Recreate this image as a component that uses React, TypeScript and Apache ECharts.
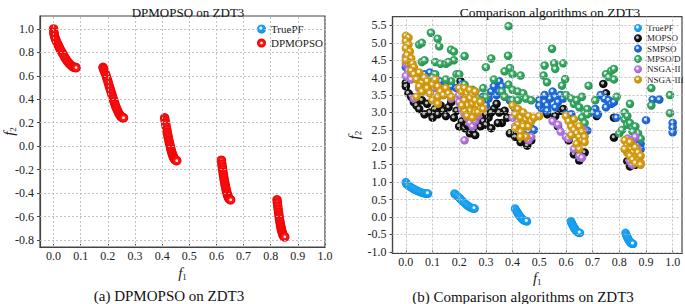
import React, { useEffect, useRef } from "react";
import * as echarts from "echarts";

// ---------- data ----------
const F1_TICKS = [0, 0.1, 0.2, 0.3, 0.4, 0.5, 0.6, 0.7, 0.8, 0.9, 1.0];
const LEFT_F2_TICKS = [-0.8, -0.6, -0.4, -0.2, 0, 0.2, 0.4, 0.6, 0.8, 1.0];
const RIGHT_F2_TICKS = [-1.0, -0.5, 0, 0.5, 1.0, 1.5, 2.0, 2.5, 3.0, 3.5, 4.0, 4.5, 5.0, 5.5];

const TRUE_PF: number[][] = [
  [0, 1.0], [0.001, 0.968], [0.003, 0.945], [0.005, 0.928], [0.01, 0.897], [0.015, 0.871],
  [0.02, 0.847], [0.025, 0.824], [0.03, 0.803], [0.035, 0.782], [0.04, 0.762], [0.045, 0.743],
  [0.05, 0.726], [0.055, 0.711], [0.06, 0.698], [0.065, 0.687], [0.07, 0.679], [0.075, 0.673],
  [0.08, 0.67], [0.083, 0.67],
  [0.1822, 0.672], [0.185, 0.654], [0.19, 0.623], [0.195, 0.589], [0.2, 0.553], [0.205, 0.515],
  [0.21, 0.477], [0.215, 0.439], [0.22, 0.402], [0.225, 0.367], [0.23, 0.334], [0.235, 0.306],
  [0.24, 0.282], [0.245, 0.263], [0.25, 0.25], [0.2545, 0.2435], [0.2578, 0.242],
  [0.4093, 0.242], [0.412, 0.206], [0.415, 0.167], [0.4175, 0.136], [0.42, 0.105], [0.4225, 0.076],
  [0.425, 0.048], [0.4275, 0.021], [0.43, -0.004], [0.4325, -0.026], [0.435, -0.047],
  [0.4375, -0.066], [0.44, -0.082], [0.4425, -0.096], [0.445, -0.107], [0.45, -0.121], [0.4539, -0.124],
  [0.6184, -0.12], [0.62, -0.152], [0.622, -0.185], [0.624, -0.217], [0.626, -0.248], [0.628, -0.276],
  [0.63, -0.303], [0.632, -0.329], [0.634, -0.352], [0.636, -0.373], [0.638, -0.392], [0.64, -0.409],
  [0.642, -0.423], [0.644, -0.435], [0.646, -0.445], [0.649, -0.454], [0.6525, -0.458],
  [0.8233, -0.457], [0.825, -0.492], [0.827, -0.53], [0.829, -0.566], [0.831, -0.599], [0.833, -0.63],
  [0.835, -0.658], [0.837, -0.683], [0.839, -0.705], [0.841, -0.725], [0.843, -0.741], [0.845, -0.754],
  [0.847, -0.764], [0.849, -0.77], [0.8518, -0.773],
];

const DPMOPSO: number[][] = [
  [0, 1.0], [0.001, 0.97], [0.002, 0.955], [0.004, 0.935], [0.007, 0.915], [0.01, 0.897],
  [0.014, 0.876], [0.018, 0.857], [0.022, 0.838], [0.026, 0.82], [0.031, 0.8], [0.036, 0.78],
  [0.041, 0.76], [0.046, 0.74], [0.052, 0.72], [0.058, 0.703], [0.064, 0.69], [0.07, 0.679],
  [0.076, 0.672], [0.081, 0.67], [0.083, 0.67],
  [0.1822, 0.672], [0.184, 0.66], [0.187, 0.642], [0.19, 0.623], [0.193, 0.603], [0.196, 0.582],
  [0.199, 0.56], [0.202, 0.538], [0.205, 0.515], [0.208, 0.492], [0.211, 0.47], [0.214, 0.447],
  [0.217, 0.424], [0.22, 0.402], [0.223, 0.381], [0.226, 0.36], [0.229, 0.34], [0.232, 0.322],
  [0.236, 0.302], [0.24, 0.282], [0.244, 0.266], [0.248, 0.254], [0.252, 0.246], [0.2555, 0.243], [0.2578, 0.242],
  [0.4093, 0.242], [0.411, 0.218], [0.413, 0.193], [0.415, 0.167], [0.417, 0.142], [0.419, 0.117],
  [0.421, 0.093], [0.423, 0.07], [0.425, 0.048], [0.427, 0.026], [0.429, 0.006], [0.431, -0.013],
  [0.433, -0.031], [0.435, -0.047], [0.437, -0.063], [0.439, -0.076], [0.441, -0.088], [0.443, -0.099],
  [0.445, -0.107], [0.448, -0.116], [0.451, -0.122], [0.4539, -0.124],
  [0.6184, -0.12], [0.62, -0.152], [0.6215, -0.177], [0.623, -0.201], [0.6245, -0.225], [0.626, -0.248],
  [0.6275, -0.27], [0.629, -0.29], [0.6305, -0.31], [0.632, -0.329], [0.6335, -0.347], [0.635, -0.363],
  [0.637, -0.383], [0.639, -0.4], [0.641, -0.416], [0.643, -0.43], [0.645, -0.44], [0.647, -0.448],
  [0.65, -0.455], [0.6525, -0.458],
  [0.8233, -0.457], [0.8245, -0.482], [0.826, -0.511], [0.8275, -0.539], [0.829, -0.566], [0.8305, -0.591],
  [0.832, -0.615], [0.8335, -0.637], [0.835, -0.658], [0.8365, -0.677], [0.838, -0.694], [0.8395, -0.71],
  [0.841, -0.725], [0.843, -0.741], [0.845, -0.754], [0.847, -0.764], [0.8495, -0.771], [0.8518, -0.773],
];

const MOPSO: number[][] = [
  [0.0, 3.85], [0.0, 3.75], [0.01, 3.55], [0.02, 3.45], [0.03, 3.3], [0.04, 3.2], [0.05, 3.1],
  [0.06, 3.35], [0.07, 2.95], [0.08, 3.25], [0.09, 3.0], [0.1, 2.85], [0.11, 3.1], [0.12, 2.95],
  [0.13, 3.2], [0.14, 3.05], [0.15, 2.9], [0.16, 3.15], [0.17, 3.3], [0.18, 2.85], [0.19, 3.05],
  [0.205, 3.9], [0.2, 2.6], [0.21, 2.75], [0.22, 2.55], [0.23, 2.65], [0.24, 2.4], [0.25, 2.5],
  [0.26, 2.35], [0.27, 2.7], [0.28, 2.6], [0.29, 2.75], [0.3, 2.65], [0.31, 2.85], [0.32, 2.55],
  [0.33, 3.1], [0.34, 3.25], [0.3, 2.95], [0.32, 3.0], [0.36, 2.7], [0.37, 3.05], [0.38, 2.85],
  [0.345, 2.7], [0.35, 3.0], [0.39, 2.4], [0.41, 2.3], [0.43, 2.15], [0.455, 2.05], [0.47, 2.2],
  [0.53, 2.95], [0.56, 2.9], [0.58, 3.05], [0.59, 3.1], [0.57, 2.6], [0.61, 2.2], [0.63, 1.8],
  [0.64, 2.0], [0.65, 1.62], [0.66, 1.85], [0.67, 1.85], [0.74, 3.82], [0.75, 3.55], [0.715, 2.9],
  [0.78, 2.85], [0.78, 2.28], [0.84, 1.45], [0.86, 1.5], [0.83, 1.6],
];

const SMPSO: number[][] = [
  [0.0, 4.3], [0.01, 4.2], [0.03, 4.1], [0.05, 4.05], [0.07, 4.1], [0.09, 4.15], [0.11, 4.0],
  [0.13, 3.9], [0.15, 3.85], [0.17, 3.75], [0.19, 3.7], [0.21, 3.65], [0.23, 3.55], [0.25, 3.45],
  [0.27, 3.35], [0.29, 3.3], [0.3, 3.2], [0.31, 3.4], [0.32, 3.6], [0.33, 3.75], [0.35, 3.9],
  [0.21, 3.8], [0.26, 3.6], [0.29, 3.45], [0.34, 3.5], [0.36, 3.75], [0.35, 3.6],
  [0.39, 3.35], [0.41, 3.1], [0.43, 3.0], [0.45, 2.9], [0.46, 2.75], [0.47, 2.55], [0.46, 2.45],
  [0.48, 2.5], [0.5, 3.35], [0.52, 3.3], [0.53, 3.2], [0.54, 3.4], [0.55, 3.6], [0.56, 3.45],
  [0.57, 3.3], [0.58, 3.5], [0.59, 3.4], [0.51, 3.1], [0.53, 3.05], [0.56, 3.15], [0.5, 3.2],
  [0.52, 3.5], [0.6, 2.95], [0.62, 2.95], [0.68, 2.48], [0.71, 3.1], [0.7, 3.0], [0.72, 2.95],
  [0.73, 3.5], [0.745, 3.4], [0.76, 3.35], [0.77, 3.25], [0.78, 3.3], [0.75, 3.15], [0.79, 2.85],
  [0.86, 2.2], [0.88, 2.1], [0.88, 1.95], [0.87, 2.05], [0.9, 2.78], [0.925, 3.37], [0.95, 3.37],
  [1.0, 2.7], [1.0, 2.57], [1.0, 2.43],
];

const MPSO_D: number[][] = [
  [0.05, 4.95], [0.06, 5.0], [0.094, 5.29], [0.119, 5.12], [0.125, 4.9], [0.169, 4.8], [0.18, 4.75],
  [0.06, 4.45], [0.07, 4.5], [0.11, 4.45], [0.13, 4.4], [0.15, 4.4], [0.18, 4.5], [0.16, 4.45],
  [0.22, 4.62], [0.19, 4.1], [0.2, 4.1], [0.17, 3.9], [0.15, 3.95], [0.11, 4.1], [0.1, 4.0],
  [0.22, 3.8], [0.25, 3.65], [0.27, 3.4], [0.3, 4.3], [0.29, 3.7], [0.32, 4.55], [0.33, 3.95],
  [0.36, 3.6], [0.37, 4.18], [0.383, 4.63], [0.385, 5.48], [0.39, 4.28], [0.4, 4.1], [0.385, 3.8],
  [0.4, 3.65], [0.42, 3.6], [0.43, 4.06], [0.44, 3.55], [0.37, 3.45], [0.45, 3.4], [0.4, 3.35],
  [0.42, 3.35], [0.47, 3.35], [0.516, 4.06], [0.529, 3.87], [0.548, 4.83], [0.52, 4.35],
  [0.556, 4.41], [0.56, 4.25], [0.59, 4.41], [0.597, 3.96], [0.585, 3.77], [0.6, 3.5], [0.62, 3.4],
  [0.63, 3.25], [0.64, 3.35], [0.66, 3.45], [0.65, 3.15], [0.67, 3.0], [0.66, 2.85], [0.68, 3.1],
  [0.68, 2.95], [0.67, 2.7], [0.685, 3.77], [0.71, 3.35], [0.75, 4.1], [0.76, 4.02], [0.77, 4.2],
  [0.78, 4.25], [0.78, 3.95], [0.79, 3.45], [0.8, 2.4], [0.82, 3.0], [0.82, 2.8], [0.83, 2.65],
  [0.84, 2.7], [0.85, 2.55], [0.86, 2.6], [0.87, 2.4], [0.83, 2.9], [0.81, 2.5], [0.85, 2.45],
  [0.88, 2.25], [0.84, 3.25], [0.92, 3.7], [0.92, 3.2], [0.99, 3.5], [0.99, 2.98], [0.3, 3.45],
];

const NSGA_II: number[][] = [
  [0.0, 4.6], [0.0, 4.4], [0.01, 4.2], [0.0, 4.05], [0.02, 3.95], [0.03, 3.4], [0.05, 3.7],
  [0.06, 3.6], [0.08, 3.8], [0.11, 3.7], [0.14, 3.5], [0.17, 3.4], [0.2, 3.3], [0.21, 3.1],
  [0.22, 2.95], [0.23, 2.85], [0.24, 2.7], [0.25, 2.6], [0.26, 2.75], [0.27, 2.9], [0.28, 3.1],
  [0.2, 3.5], [0.22, 2.2], [0.4, 2.85], [0.41, 2.6], [0.455, 2.3], [0.47, 2.3], [0.46, 2.2],
  [0.55, 2.75], [0.57, 2.65], [0.58, 2.45], [0.6, 2.3], [0.61, 2.25], [0.665, 2.5], [0.63, 1.95],
  [0.65, 1.75], [0.66, 1.7], [0.83, 2.25], [0.85, 2.2], [0.86, 2.3], [0.84, 1.6], [0.85, 1.5],
  [0.87, 1.95], [0.86, 1.9], [0.87, 1.7],
];

const NSGA_III: number[][] = [
  [0.0, 5.2], [0.01, 5.15], [0.0, 5.05], [0.01, 4.95], [0.0, 4.85], [0.015, 4.75], [0.005, 4.65],
  [0.02, 4.55], [0.01, 4.45], [0.025, 4.4], [0.03, 4.3], [0.02, 4.2], [0.03, 4.1], [0.05, 4.15],
  [0.04, 3.95], [0.06, 3.85], [0.07, 4.0], [0.08, 3.9], [0.05, 3.75], [0.06, 3.6], [0.08, 3.7],
  [0.09, 3.55], [0.1, 3.8], [0.11, 3.95], [0.12, 3.75], [0.13, 3.6], [0.14, 3.5], [0.12, 3.45],
  [0.1, 3.35], [0.15, 3.7], [0.16, 3.55], [0.17, 3.45], [0.12, 3.25], [0.04, 3.45], [0.0, 4.5],
  [0.2, 3.7], [0.21, 3.6], [0.22, 3.7], [0.23, 3.55], [0.24, 3.65], [0.25, 3.5], [0.26, 3.6],
  [0.24, 3.4], [0.22, 3.35], [0.23, 3.2], [0.25, 3.25], [0.26, 3.35], [0.27, 3.2], [0.28, 3.1],
  [0.24, 3.05], [0.26, 3.0], [0.22, 3.05], [0.23, 2.9], [0.25, 2.85], [0.27, 3.0], [0.28, 3.3],
  [0.21, 3.2], [0.29, 3.1],
  [0.4, 3.2], [0.42, 3.1], [0.41, 2.95], [0.43, 2.85], [0.44, 3.0], [0.45, 2.8], [0.46, 2.9],
  [0.42, 2.65], [0.44, 2.6], [0.46, 2.6], [0.47, 2.75], [0.43, 2.45], [0.45, 2.3], [0.48, 2.85],
  [0.5, 2.9], [0.41, 2.55], [0.43, 2.3],
  [0.6, 2.9], [0.61, 2.75], [0.62, 2.6], [0.63, 2.5], [0.64, 2.4], [0.65, 2.3], [0.66, 2.2],
  [0.63, 2.8], [0.65, 2.6], [0.66, 2.45], [0.67, 2.3], [0.62, 2.35], [0.64, 2.1], [0.65, 1.95],
  [0.67, 2.15],
  [0.82, 2.2], [0.83, 2.05], [0.84, 1.95], [0.85, 1.85], [0.86, 1.75], [0.87, 1.65], [0.88, 1.55],
  [0.83, 1.85], [0.84, 1.75], [0.86, 2.0], [0.87, 1.85], [0.88, 1.75], [0.85, 1.65], [0.82, 1.95],
  [0.86, 1.55], [0.84, 2.15], [0.88, 1.5],
];

// ---------- styling helpers ----------
const FONT = "'Liberation Serif', 'Times New Roman', 'DejaVu Serif', serif";
const GRID_LINE = { color: "#bcbcbc", type: [2, 2], width: 0.9 };

function sphere(base: string, dark: string, hi: string) {
  return new echarts.graphic.RadialGradient(0.42, 0.4, 0.62, [
    { offset: 0, color: hi },
    { offset: 0.2, color: hi },
    { offset: 0.36, color: base },
    { offset: 1, color: dark },
  ]);
}

const C_TRUE = () => sphere("#19a6f5", "#0e8fe0", "#e8f6ff");
const C_RED = () =>
  new echarts.graphic.RadialGradient(0.5, 0.5, 0.5, [
    { offset: 0, color: "#ffffff" },
    { offset: 0.2, color: "#ffe6e6" },
    { offset: 0.36, color: "#ff2020" },
    { offset: 1, color: "#ee0000" },
  ]);

const axisNameRich = {
  i: { fontFamily: FONT, fontStyle: "italic", fontSize: 15, color: "#222" },
  s: { fontFamily: FONT, fontSize: 9, color: "#222", padding: [8, 0, 0, 0] },
};

const fmt1 = (v: any) => (Math.round(Number(v) * 10) / 10).toFixed(1);

function xAxisCfg(gridIndex: number, max: number, nameGap: number, labelMargin: number) {
  return {
    type: "value",
    gridIndex,
    min: -0.05,
    max,
    name: "{i|f}{s|1}",
    nameLocation: "middle",
    nameGap,
    nameMoveOverlap: false,
    nameTextStyle: { rich: axisNameRich },
    axisLine: { show: true, onZero: false, lineStyle: { color: "#444", width: 1.2 } },
    axisTick: { show: true, inside: true, length: 3, customValues: F1_TICKS, lineStyle: { color: "#444" } },
    axisLabel: {
      customValues: F1_TICKS,
      fontFamily: FONT,
      fontSize: 12,
      color: "#222",
      margin: labelMargin,
      formatter: fmt1,
    },
    splitLine: { show: false },
  };
}

function yAxisCfg(gridIndex: number, min: number, max: number, ticks: number[], nameGap: number) {
  return {
    type: "value",
    gridIndex,
    min,
    max,
    name: "{i|f}{s|2}",
    nameLocation: "middle",
    nameRotate: 90,
    nameGap,
    nameMoveOverlap: false,
    nameTextStyle: { rich: axisNameRich },
    axisLine: { show: true, onZero: false, lineStyle: { color: "#444", width: 1.2 } },
    axisTick: { show: true, inside: false, length: 3, customValues: ticks, lineStyle: { color: "#444" } },
    axisLabel: {
      customValues: ticks,
      fontFamily: FONT,
      fontSize: 12,
      color: "#222",
      margin: 6,
      formatter: fmt1,
    },
    splitLine: { show: false },
  };
}

// invisible series carrying the dashed grid lines at tick values
function gridLines(idx: number, yTicks: number[]) {
  return {
    type: "scatter",
    name: "grid" + idx,
    data: [],
    xAxisIndex: idx,
    yAxisIndex: idx,
    silent: true,
    z: 1,
    markLine: {
      silent: true,
      symbol: "none",
      label: { show: false },
      lineStyle: GRID_LINE,
      emphasis: { disabled: true },
      data: [
        ...F1_TICKS.map((v) => ({ xAxis: v })),
        ...yTicks.map((v) => ({ yAxis: v })),
      ],
    },
  };
}

export default function App() {
  const ref = useRef<HTMLDivElement>(null);

  useEffect(() => {
    if (!ref.current) return;
    const chart = echarts.init(ref.current, null, { renderer: "svg" });

    const scatter = (name: string, data: number[][], idx: number, color: any, size: number) => ({
      type: "scatter",
      name,
      data,
      xAxisIndex: idx,
      yAxisIndex: idx,
      symbol: "circle",
      symbolSize: size,
      z: 3,
      itemStyle: { color, opacity: 1 },
      emphasis: { disabled: true },
    });

    const titleStyle = (size: number) => ({
      fontFamily: FONT,
      fontSize: size,
      fontWeight: "normal",
      color: "#111",
    });

    chart.setOption({
      animation: false,
      textStyle: { fontFamily: FONT },
      title: [
        { text: "DPMOPSO on ZDT3", left: 183, top: 1, textAlign: "center", textStyle: titleStyle(13) },
        { text: "Comparison algorithms on ZDT3", left: 545, top: 0.5, textAlign: "center", textStyle: titleStyle(13.5) },
        { text: "(a) DPMOPSO on ZDT3", left: 164, top: 283, textAlign: "center", textStyle: titleStyle(15) },
        { text: "(b) Comparison algorithms on ZDT3", left: 518, top: 284, textAlign: "center", textStyle: titleStyle(15) },
      ],
      legend: [
        {
          data: ["TruePF", "DPMOPSO"],
          orient: "vertical",
          left: 252,
          top: 18,
          icon: "circle",
          itemWidth: 9,
          itemHeight: 9,
          itemGap: 2,
          itemTextGap: 10,
          textStyle: { fontFamily: FONT, fontSize: 11, color: "#222", lineHeight: 12 },
        },
        {
          data: ["TruePF", "MOPSO", "SMPSO", "MPSO/D", "NSGA-II", "NSGA-III"],
          orient: "vertical",
          left: 629,
          top: 18,
          icon: "circle",
          itemWidth: 8,
          itemHeight: 8,
          itemGap: 0.3,
          itemTextGap: 7,
          textStyle: { fontFamily: FONT, fontSize: 9, color: "#222", lineHeight: 10 },
        },
      ],
      grid: [
        { left: 40, top: 16, width: 285, height: 231, show: true, borderColor: "#444", borderWidth: 1.2, backgroundColor: "transparent" },
        { left: 392.5, top: 16.7, width: 289.5, height: 236.8, show: true, borderColor: "#444", borderWidth: 1.2, backgroundColor: "transparent" },
      ],
      xAxis: [xAxisCfg(0, 1.0, 17, 3), xAxisCfg(1, 1.035, 16, 2)],
      yAxis: [
        yAxisCfg(0, -0.86, 1.11, LEFT_F2_TICKS, 23),
        yAxisCfg(1, -1.05, 5.75, RIGHT_F2_TICKS, 30),
      ],
      series: [
        gridLines(0, LEFT_F2_TICKS),
        gridLines(1, RIGHT_F2_TICKS),
        scatter("TruePF", TRUE_PF, 0, C_TRUE(), 5),
        scatter("DPMOPSO", DPMOPSO, 0, C_RED(), 9.5),
        scatter("TruePF", TRUE_PF, 1, C_TRUE(), 8.5),
        scatter("MOPSO", MOPSO, 1, sphere("#1c1c1c", "#000000", "#bdbdbd"), 8.5),
        scatter("SMPSO", SMPSO, 1, sphere("#2272e0", "#1558c0", "#d8e8ff"), 8.5),
        scatter("MPSO/D", MPSO_D, 1, sphere("#3cac68", "#23904e", "#dff5e8"), 8.5),
        scatter("NSGA-II", NSGA_II, 1, sphere("#b97fe3", "#9c5fcc", "#f3e8ff"), 8.5),
        scatter("NSGA-III", NSGA_III, 1, sphere("#d8a015", "#c18a05", "#fff2d0"), 8.5),
      ],
    });

    return () => chart.dispose();
  }, []);

  return (
    <div
      ref={ref}
      style={{ position: "fixed", left: 0, top: 0, width: 685, height: 304, background: "#fff" }}
    />
  );
}
